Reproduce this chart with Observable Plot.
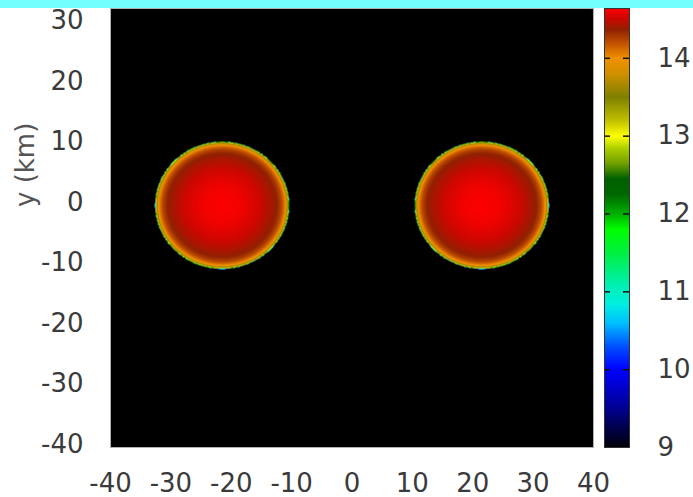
<!DOCTYPE html>
<html>
<head>
<meta charset="utf-8">
<script src="https://cdn.jsdelivr.net/npm/d3@7"></script>
<script src="https://cdn.jsdelivr.net/npm/@observablehq/plot@0.6"></script>
<style>
  body { margin: 0; background: #ffffff; }
  #band { height: 8px; background: #74ffff; }
  #wrap { position: relative; width: 693px; height: 489px; }
  #wrap svg { position: absolute; top: 0; }
</style>
</head>
<body>
<div id="band"></div>
<div id="wrap"></div>
<script>
// Axis ticks
const xTicks = [-40, -30, -20, -10, 0, 10, 20, 30, 40];
const yTicks = [-40, -30, -20, -10, 0, 10, 20, 30];
const cbTicks = [9, 10, 11, 12, 13, 14];

// The two stars: centres and semi-axes (km)
const starX = [-21.5, 21.5];
const starY = [0, 0];
const starRx = [11.1, 11.1];
const starRy = [10.5, 10.5];

// Radial profile of the field, radius as a fraction of the stellar radius
const profileR = [0, 0.3, 0.55, 0.72, 0.82, 0.88, 0.92, 0.96, 0.985, 0.995, 1.0, 1.006];
const profileV = [14.64, 14.6, 14.52, 14.43, 14.36, 14.25, 14.12, 13.9, 13.3, 12.8, 12.0, 9.0];

// Palette stops (value -> colour)
const paletteV = [9.0, 9.5, 10.0, 10.3, 10.6, 10.85, 11.1, 11.5, 11.8, 12.0, 12.25, 12.45, 12.65, 12.85, 13.0, 13.2, 13.5, 13.8, 14.0, 14.2, 14.37, 14.5, 14.64];
const paletteC = ["#000008", "#000090", "#0000ff", "#0050ff", "#00c0ff", "#00f0e0", "#00f0b0", "#00f040", "#00ff00", "#00b000", "#006800", "#006000", "#70a000", "#b0d000", "#ffff00", "#c0c000", "#808000", "#d09000", "#f09000", "#c05000", "#902000", "#c80800", "#ff0000"];

const vMin = 9, vMax = 14.64;
const palette = d3.scaleLinear().domain(paletteV).range(paletteC).clamp(true);
const profile = d3.scaleLinear().domain(profileR).range(profileV);

function field(x, y) {
  let v = NaN;
  for (let i = 0; i < starX.length; i++) {
    const dx = (x - starX[i]) / starRx[i];
    const dy = (y - starY[i]) / starRy[i];
    const r = Math.sqrt(dx * dx + dy * dy);
    if (r <= profileR[profileR.length - 1]) {
      const p = profile(r);
      v = isNaN(v) ? p : Math.max(v, p);
    }
  }
  return v;
}

const colorScale = {
  type: "linear",
  domain: [vMin, vMax],
  interpolate: t => palette(vMin + t * (vMax - vMin)),
  clamp: true
};

const font = {
  fontFamily: "'DejaVu Sans', sans-serif",
  fontSize: "26px",
  color: "#3a3a3a",
  background: "transparent",
  overflow: "visible"
};

const main = Plot.plot({
  width: 600,
  height: 489,
  marginLeft: 110,
  marginRight: 7,
  marginTop: 0,
  marginBottom: 50,
  style: font,
  x: {domain: [-40, 40]},
  y: {domain: [-40, 32.5]},
  color: colorScale,
  marks: [
    Plot.frame({fill: "#000000", stroke: "#b0b0b0"}),
    Plot.raster({fill: field, x1: -40, x2: 40, y1: -40, y2: 32.5, pixelSize: 1}),
    Plot.axisX(xTicks, {tickSize: 0, tickPadding: 26, tickFormat: d => String(d), label: null}),
    Plot.axisY(yTicks, {tickSize: 0, tickPadding: 27, dy: -3, tickFormat: d => String(d), label: null}),
    Plot.text(["y (km)"], {frameAnchor: "left", rotate: -90, dx: -85, dy: -21, fontSize: 26, fill: "#555"})
  ]
});
main.style.left = "0px";

const bar = Plot.plot({
  width: 89,
  height: 489,
  marginLeft: 0,
  marginRight: 64,
  marginTop: 0,
  marginBottom: 50,
  style: font,
  x: {domain: [0, 1], axis: null},
  y: {domain: [vMin, vMax]},
  color: colorScale,
  marks: [
    Plot.raster({fill: (x, y) => y, x1: 0, x2: 1, y1: vMin, y2: vMax, pixelSize: 1}),
    Plot.ruleY(cbTicks.slice(1), {y: d => d, x1: 0, x2: 0.24, stroke: "#111", strokeWidth: 1.5}),
    Plot.ruleY(cbTicks.slice(1), {y: d => d, x1: 0.76, x2: 1, stroke: "#111", strokeWidth: 1.5}),
    Plot.frame({stroke: "#333"}),
    Plot.axisY(cbTicks, {anchor: "right", tickSize: 0, tickPadding: 28, tickFormat: d => String(d), label: null})
  ]
});
bar.style.left = "604px";

document.getElementById("wrap").append(main, bar);
</script>
</body>
</html>
